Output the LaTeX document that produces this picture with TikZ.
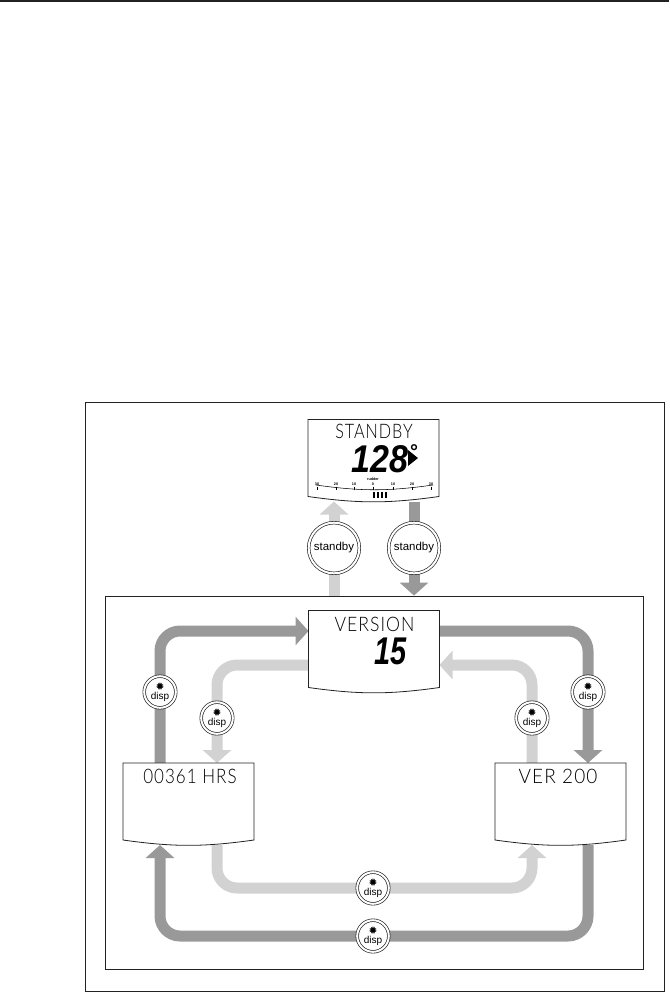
\documentclass[tikz,border=0pt]{standalone}
\usepackage{fontspec}
\usepackage{tikz}
\usetikzlibrary{arrows.meta,backgrounds}
\setmainfont{Liberation Sans}
\newfontfamily\lcdfont[LetterSpace=6]{Lato Light}
\newfontfamily\symfont{DejaVu Sans}
\definecolor{Dark}{HTML}{999999}
\definecolor{Light}{HTML}{D2D2D2}
\definecolor{Rule}{HTML}{222222}
\newcommand{\sunmark}{{\symfont\fontsize{8pt}{8pt}\selectfont ✹}}

\begin{document}
\begin{tikzpicture}[x=0.75pt,y=-0.75pt,
    frame/.style={draw=Rule,line width=0.6pt,inner sep=0pt},
    panel/.style={minimum width=98.25pt,minimum height=61.5pt,inner sep=0pt,outer sep=0pt},
    lcd/.style={inner sep=0pt,font=\lcdfont\fontsize{15pt}{15pt}\selectfont},
    digits/.style={inner sep=0pt,font=\bfseries\itshape\fontsize{29pt}{29pt}\selectfont},
    btn/.style={circle,draw=Rule,fill=white,line width=0.5pt,double=white,double distance=1.5pt,
      outer sep=0pt,inner sep=0pt,align=center},
    dispbtn/.style={btn,minimum size=23.7pt,font=\fontsize{7.5pt}{7.5pt}\selectfont},
    sbybtn/.style={btn,minimum size=38pt,font=\fontsize{8.6pt}{10pt}\selectfont},
    scalenum/.style={inner sep=0pt,font=\bfseries\fontsize{2.8pt}{3pt}\selectfont},
    darr/.style={Dark,line width=8.25pt,rounded corners=15pt,-{Triangle[length=9.75pt,width=21pt]}},
    larr/.style={Light,line width=8.25pt,rounded corners=15pt,-{Triangle[length=9.75pt,width=21pt]}}
  ]
    \useasboundingbox (0,0) rectangle (669,993);
    \draw[line width=1.1pt,Rule] (0,1)--(669,1);

    \node[frame,minimum width=434.25pt,minimum height=441.75pt] (page) at (374.5,697) {};
    \node[frame,minimum width=403.5pt,minimum height=279.75pt] (mode) at (374,782.5) {};

    % displays
    \node[panel] (sby) at (373.5,460.5) {};
    \node[panel] (ver) at (374,651.5) {};
    \node[panel] (hrs) at (188.5,804) {};
    \node[panel] (swv) at (560.5,804) {};
    \foreach \a in {sby,ver,hrs,swv}
      \draw[Rule,line width=0.6pt,fill=white] (\a.north west)--(\a.north east)
        --([yshift=3.75pt]\a.south east) to[bend left=8] ([yshift=3.75pt]\a.south west)--cycle;

    \node[lcd] (tsby) at (374,431) {\scalebox{.81}[1]{STANDBY}};
    \node[lcd] (tver) at (374.5,624) {\scalebox{.88}[1]{VERSION}};
    \node[lcd] (thrs) at (190,776) {\scalebox{.85}[1]{00361 HRS}};
    \node[lcd] (tswv) at (558,776) {\scalebox{.95}[1]{VER 200}};
    \node[digits] (dsby) at (380,459) {\scalebox{.88}[1]{128}};
    \node[digits] (dver) at (391,651) {\scalebox{.75}[1]{15}};
    \node[inner sep=0pt,font=\bfseries\fontsize{15pt}{15pt}\selectfont] (deg) at (414,452) {°};
    \fill (408,450)--(418,458)--(408,466)--cycle;

    % rudder scale
    \draw[line width=0.4pt] (316,485) to[bend right=8] (433,485);
    \node[scalenum] (rud) at (373,479) {rudder};
    \foreach \x/\t in {317/30,336/20,354/10,373/0,393/10,412/20,431/30}{
      \node[scalenum] at (\x,484.5) {\t};
      \draw[line width=0.4pt] (\x,486.5)--(\x,489.5);
    }
    \foreach \x in {374,378,382,386}
      \fill (\x-1,492) rectangle (\x+1,497.5);

    % keys
    \node[sbybtn] (s1) at (334,548) {standby};
    \node[sbybtn] (s2) at (414,548) {standby};
    \node[dispbtn] (b1) at (160,692) {\sunmark\\[-1pt]disp};
    \node[dispbtn] (b2) at (588,692) {\sunmark\\[-1pt]disp};
    \node[dispbtn] (b3) at (217,718) {\sunmark\\[-1pt]disp};
    \node[dispbtn] (b4) at (532,718) {\sunmark\\[-1pt]disp};
    \node[dispbtn] (b5) at (373,936) {\sunmark\\[-1pt]disp};
    \node[dispbtn] (b6) at (373,888) {\sunmark\\[-1pt]disp};
    \coordinate (dtop) at (374,631);
    \coordinate (ltop) at (374,665);

    \begin{scope}[on background layer]
      \draw[larr] (mode.north -| s1)--(sby.south -| s1);
      \draw[darr] (sby.south -| s2)--(mode.north -| s2);
      \draw[darr] (hrs.north -| b1) |- (ver.west |- dtop);
      \draw[darr] (ver.east |- dtop) -| (swv.north -| b2);
      \draw[larr] (ver.west |- ltop) -| (hrs.north -| b3);
      \draw[larr] (swv.north -| b4) |- (ver.east |- ltop);
      \draw[larr] (hrs.south -| b3) |- (b6) -| (swv.south -| b4);
      \draw[darr] (swv.south -| b2) |- (b5) -| (hrs.south -| b1);
    \end{scope}
  \end{tikzpicture}
\end{document}
